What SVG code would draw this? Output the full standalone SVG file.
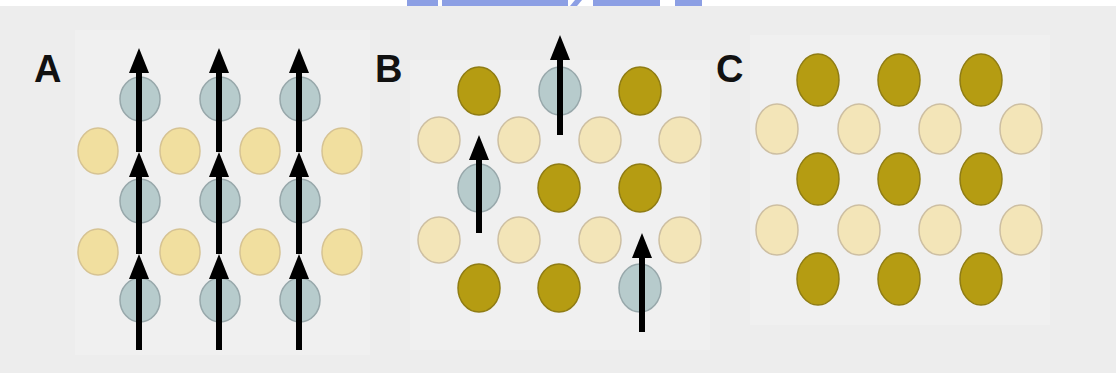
<svg xmlns="http://www.w3.org/2000/svg" width="1116" height="373" viewBox="0 0 1116 373">
<defs>
<style>
.bg{fill:#ededed}
.pane{fill:#f0f0f0}
.blue{fill:#b7cbcc;stroke:#98a8ab;stroke-width:1.5}
.yA{fill:#f1df9f;stroke:#d6c393;stroke-width:1.5}
.yl{fill:#f3e5b8;stroke:#cdbfa2;stroke-width:1.5}
.dk{fill:#b59c12;stroke:#8f7c14;stroke-width:1.5}
.lbl{font-family:"Liberation Sans",Arial,sans-serif;font-weight:bold;font-size:38px;fill:#111}
.arr{stroke:#000;stroke-width:6;fill:none;marker-end:url(#ah)}
.wm{fill:#8c9fe4}
</style>
<marker id="ah" markerUnits="userSpaceOnUse" markerWidth="26" markerHeight="22" viewBox="0 0 26 22" refX="1" refY="11" orient="auto">
<path d="M0,1 L25,11 L0,21 Z" fill="#000"/>
</marker>
</defs>
<rect width="1116" height="373" fill="#ffffff"/>
<rect class="bg" x="0" y="6" width="1116" height="367"/>
<g id="watermark">
<rect class="wm" x="407" y="0" width="31" height="6"/>
<rect class="wm" x="442" y="0" width="126" height="6"/>
<polygon class="wm" points="575,0 582,0 577,6 570,6"/>
<rect class="wm" x="593" y="0" width="67" height="6"/>
<rect class="wm" x="675" y="0" width="27" height="6"/>
</g>
<rect class="pane" x="75" y="30" width="295" height="325"/>
<rect class="pane" x="410" y="60" width="300" height="290"/>
<rect class="pane" x="750" y="35" width="300" height="290"/>

<g id="panel-A">
<text class="lbl" x="34" y="82">A</text>
<g id="A-yellow">
<ellipse class="yA" cx="98" cy="151" rx="20" ry="23"/>
<ellipse class="yA" cx="180" cy="151" rx="20" ry="23"/>
<ellipse class="yA" cx="260" cy="151" rx="20" ry="23"/>
<ellipse class="yA" cx="342" cy="151" rx="20" ry="23"/>
<ellipse class="yA" cx="98" cy="252" rx="20" ry="23"/>
<ellipse class="yA" cx="180" cy="252" rx="20" ry="23"/>
<ellipse class="yA" cx="260" cy="252" rx="20" ry="23"/>
<ellipse class="yA" cx="342" cy="252" rx="20" ry="23"/>
</g>
<g id="A-blue">
<ellipse class="blue" cx="140" cy="99" rx="20" ry="22"/>
<ellipse class="blue" cx="220" cy="99" rx="20" ry="22"/>
<ellipse class="blue" cx="300" cy="99" rx="20" ry="22"/>
<ellipse class="blue" cx="140" cy="201" rx="20" ry="22"/>
<ellipse class="blue" cx="220" cy="201" rx="20" ry="22"/>
<ellipse class="blue" cx="300" cy="201" rx="20" ry="22"/>
<ellipse class="blue" cx="140" cy="300" rx="20" ry="22"/>
<ellipse class="blue" cx="220" cy="300" rx="20" ry="22"/>
<ellipse class="blue" cx="300" cy="300" rx="20" ry="22"/>
</g>
</g>

<g id="panel-B">
<text class="lbl" x="375" y="82">B</text>
<g id="B-yellow">
<ellipse class="yl" cx="439" cy="140" rx="21" ry="23"/>
<ellipse class="yl" cx="519" cy="140" rx="21" ry="23"/>
<ellipse class="yl" cx="600" cy="140" rx="21" ry="23"/>
<ellipse class="yl" cx="680" cy="140" rx="21" ry="23"/>
<ellipse class="yl" cx="439" cy="240" rx="21" ry="23"/>
<ellipse class="yl" cx="519" cy="240" rx="21" ry="23"/>
<ellipse class="yl" cx="600" cy="240" rx="21" ry="23"/>
<ellipse class="yl" cx="680" cy="240" rx="21" ry="23"/>
</g>
<g id="B-dark">
<ellipse class="dk" cx="479" cy="91" rx="21" ry="24"/>
<ellipse class="dk" cx="640" cy="91" rx="21" ry="24"/>
<ellipse class="dk" cx="559" cy="188" rx="21" ry="24"/>
<ellipse class="dk" cx="640" cy="188" rx="21" ry="24"/>
<ellipse class="dk" cx="479" cy="288" rx="21" ry="24"/>
<ellipse class="dk" cx="559" cy="288" rx="21" ry="24"/>
</g>
<g id="B-blue">
<ellipse class="blue" cx="560" cy="91" rx="21" ry="24"/>
<ellipse class="blue" cx="479" cy="188" rx="21" ry="24"/>
<ellipse class="blue" cx="640" cy="288" rx="21" ry="24"/>
</g>
</g>

<g id="panel-C">
<text class="lbl" x="716" y="82">C</text>
<g id="C-yellow">
<ellipse class="yl" cx="777" cy="129" rx="21" ry="25"/>
<ellipse class="yl" cx="859" cy="129" rx="21" ry="25"/>
<ellipse class="yl" cx="940" cy="129" rx="21" ry="25"/>
<ellipse class="yl" cx="1021" cy="129" rx="21" ry="25"/>
<ellipse class="yl" cx="777" cy="230" rx="21" ry="25"/>
<ellipse class="yl" cx="859" cy="230" rx="21" ry="25"/>
<ellipse class="yl" cx="940" cy="230" rx="21" ry="25"/>
<ellipse class="yl" cx="1021" cy="230" rx="21" ry="25"/>
</g>
<g id="C-dark">
<ellipse class="dk" cx="818" cy="80" rx="21" ry="26"/>
<ellipse class="dk" cx="899" cy="80" rx="21" ry="26"/>
<ellipse class="dk" cx="981" cy="80" rx="21" ry="26"/>
<ellipse class="dk" cx="818" cy="179" rx="21" ry="26"/>
<ellipse class="dk" cx="899" cy="179" rx="21" ry="26"/>
<ellipse class="dk" cx="981" cy="179" rx="21" ry="26"/>
<ellipse class="dk" cx="818" cy="279" rx="21" ry="26"/>
<ellipse class="dk" cx="899" cy="279" rx="21" ry="26"/>
<ellipse class="dk" cx="981" cy="279" rx="21" ry="26"/>
</g>
</g>

<g id="connectors">
<line class="arr" x1="139" y1="350" x2="139" y2="278"/>
<line class="arr" x1="139" y1="254" x2="139" y2="176"/>
<line class="arr" x1="139" y1="152" x2="139" y2="72"/>
<line class="arr" x1="219" y1="350" x2="219" y2="278"/>
<line class="arr" x1="219" y1="254" x2="219" y2="176"/>
<line class="arr" x1="219" y1="152" x2="219" y2="72"/>
<line class="arr" x1="299" y1="350" x2="299" y2="278"/>
<line class="arr" x1="299" y1="254" x2="299" y2="176"/>
<line class="arr" x1="299" y1="152" x2="299" y2="72"/>
<line class="arr" x1="560" y1="135" x2="560" y2="59"/>
<line class="arr" x1="479" y1="233" x2="479" y2="159"/>
<line class="arr" x1="642" y1="332" x2="642" y2="257"/>
</g>
</svg>
